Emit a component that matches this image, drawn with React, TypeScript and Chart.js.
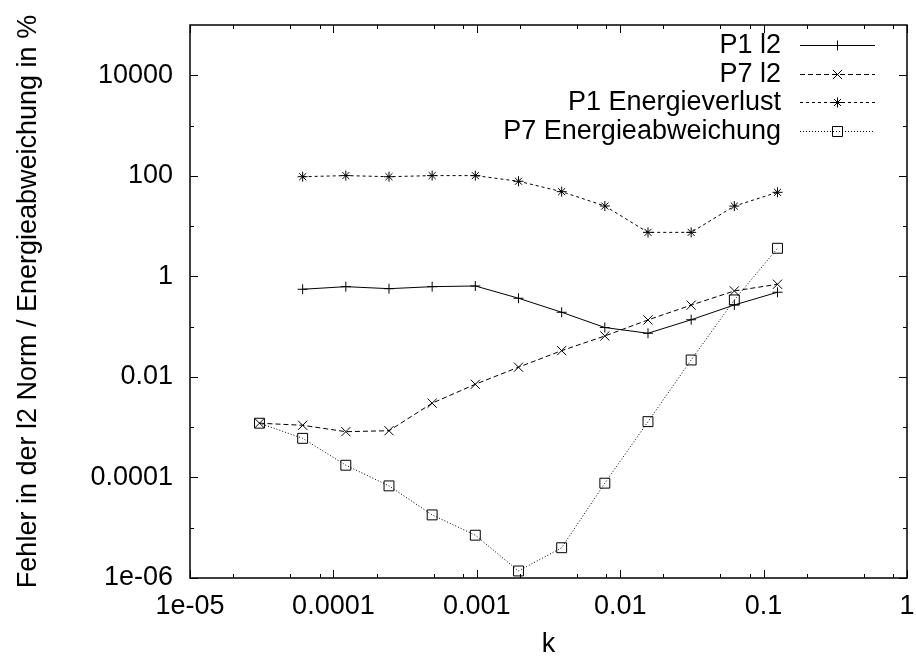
import React, { useEffect, useRef } from 'react';
import { Chart, registerables } from 'chart.js';

Chart.register(...registerables);

// ---- data ----
const kValues = [3.0518e-5, 6.1035e-5, 1.2207e-4, 2.4414e-4, 4.8828e-4, 9.7656e-4, 1.9531e-3, 3.9063e-3, 7.8125e-3, 0.015625, 0.03125, 0.0625, 0.125];
const p1L2 = [null, 0.554, 0.624, 0.569, 0.624, 0.644, 0.367, 0.193, 0.096, 0.0738, 0.137, 0.27, 0.483];
const p7L2 = [0.0012, 0.00109, 0.000814, 0.00085, 0.003, 0.00714, 0.0156, 0.0333, 0.0652, 0.136, 0.268, 0.513, 0.697];
const p1Energie = [null, 96, 101, 96, 101, 101, 78, 48.4, 25.1, 7.5, 7.5, 25, 47];
const p7Energie = [0.0012, 0.0006, 1.75e-4, 6.8e-5, 1.8e-5, 7.1e-6, 1.38e-6, 4.0e-6, 7.7e-5, 0.00129, 0.0217, 0.34, 3.62];

const seriesLabels = ['P1 l2', 'P7 l2', 'P1 Energieverlust', 'P7 Energieabweichung'];

const xTickValues = [1e-5, 1e-4, 1e-3, 1e-2, 1e-1, 1];
const xTickLabels = ['1e-05', '0.0001', '0.001', '0.01', '0.1', '1'];
const xMinorFactors = [2, 5, 8];
const yTickValues = [1e-6, 1e-4, 1e-2, 1, 100, 10000];
const yTickLabels = ['1e-06', '0.0001', '0.01', '1', '100', '10000'];
const yMinorValues = [1e-5, 1e-3, 0.1, 10, 1000];

const xTitle = 'k';
const yTitle = 'Fehler in der l2 Norm / Energieabweichung in %';

const FONT = "'Liberation Sans', Arial, Helvetica, sans-serif";
const FS = 27;

function toPoints(vals: (number | null)[]) {
  const out: { x: number; y: number }[] = [];
  vals.forEach((v, i) => {
    if (v !== null) out.push({ x: kValues[i], y: v });
  });
  return out;
}

function drawMarker(ctx: CanvasRenderingContext2D, style: string, x: number, y: number) {
  ctx.beginPath();
  if (style === 'cross') {
    ctx.moveTo(x - 5, y); ctx.lineTo(x + 5, y);
    ctx.moveTo(x, y - 5); ctx.lineTo(x, y + 5);
  } else if (style === 'crossRot') {
    ctx.moveTo(x - 4.6, y - 4.6); ctx.lineTo(x + 4.6, y + 4.6);
    ctx.moveTo(x - 4.6, y + 4.6); ctx.lineTo(x + 4.6, y - 4.6);
  } else if (style === 'star') {
    ctx.moveTo(x - 5, y); ctx.lineTo(x + 5, y);
    ctx.moveTo(x, y - 5); ctx.lineTo(x, y + 5);
    ctx.moveTo(x - 3.5, y - 3.5); ctx.lineTo(x + 3.5, y + 3.5);
    ctx.moveTo(x - 3.5, y + 3.5); ctx.lineTo(x + 3.5, y - 3.5);
  } else if (style === 'rect') {
    ctx.rect(x - 5, y - 5, 10, 10);
  }
  ctx.stroke();
}

const framePlugin = {
  id: 'gnuFrame',
  afterDraw(chart: any) {
    const { ctx, chartArea } = chart;
    const { left, right, top, bottom } = chartArea;
    const xs = chart.scales.x;
    const ys = chart.scales.y;
    ctx.save();
    ctx.strokeStyle = '#000';
    ctx.setLineDash([]);
    ctx.lineWidth = 1.5;
    ctx.strokeRect(left, top, right - left, bottom - top);
    ctx.lineWidth = 1;
    const major = 8;
    const minor = 4;
    ctx.beginPath();
    const xTick = (v: number, len: number) => {
      const px = Math.round(xs.getPixelForValue(v)) + 0.5;
      ctx.moveTo(px, bottom); ctx.lineTo(px, bottom - len);
      ctx.moveTo(px, top); ctx.lineTo(px, top + len);
    };
    const yTick = (v: number, len: number) => {
      const py = Math.round(ys.getPixelForValue(v)) + 0.5;
      ctx.moveTo(left, py); ctx.lineTo(left + len, py);
      ctx.moveTo(right, py); ctx.lineTo(right - len, py);
    };
    xTickValues.forEach((v) => xTick(v, major));
    xTickValues.slice(0, -1).forEach((d) => xMinorFactors.forEach((f) => xTick(d * f, minor)));
    yTickValues.forEach((v) => yTick(v, major));
    yMinorValues.forEach((v) => yTick(v, minor));
    ctx.stroke();

    // legend (gnuplot style: right aligned text, then line sample with marker)
    const textRight = 781;
    const lineL = 800;
    const lineR = 875;
    const rowY0 = 45;
    const rowH = 28.5;
    ctx.font = `${FS}px ${FONT}`;
    ctx.fillStyle = '#000';
    ctx.textAlign = 'right';
    ctx.textBaseline = 'middle';
    chart.data.datasets.forEach((ds: any, i: number) => {
      const y = rowY0 + i * rowH;
      ctx.fillText(ds.label, textRight, y + 1);
      ctx.strokeStyle = '#000';
      ctx.lineWidth = 1;
      ctx.setLineDash(ds.borderDash || []);
      ctx.beginPath();
      ctx.moveTo(lineL, Math.round(y) + 0.5);
      ctx.lineTo(lineR, Math.round(y) + 0.5);
      ctx.stroke();
      ctx.setLineDash([]);
      drawMarker(ctx, ds.pointStyle, (lineL + lineR) / 2, Math.round(y) + 0.5);
    });
    ctx.restore();
  },
};

export default function App() {
  const ref = useRef<HTMLCanvasElement | null>(null);

  useEffect(() => {
    if (!ref.current) return;
    const common = {
      borderColor: '#000',
      borderWidth: 1,
      pointBorderColor: '#000',
      pointBackgroundColor: 'rgba(0,0,0,0)',
      pointBorderWidth: 1,
      fill: false,
      tension: 0,
    };
    const chart = new Chart(ref.current, {
      type: 'line',
      data: {
        datasets: [
          { ...common, label: seriesLabels[0], data: toPoints(p1L2), borderDash: [], pointStyle: 'cross', pointRadius: 5 },
          { ...common, label: seriesLabels[1], data: toPoints(p7L2), borderDash: [5, 3], pointStyle: 'crossRot', pointRadius: 6.5 },
          { ...common, label: seriesLabels[2], data: toPoints(p1Energie), borderDash: [3, 3], pointStyle: 'star', pointRadius: 5 },
          { ...common, label: seriesLabels[3], data: toPoints(p7Energie), borderDash: [1, 2], pointStyle: 'rect', pointRadius: 7 },
        ] as any,
      },
      options: {
        responsive: false,
        animation: false,
        devicePixelRatio: 1,
        events: [],
        layout: { padding: { top: 25, right: 9, left: 0, bottom: 0 } },
        plugins: {
          legend: { display: false },
          tooltip: { enabled: false },
        },
        scales: {
          x: {
            type: 'logarithmic',
            min: 1e-5,
            max: 1,
            afterBuildTicks: (s: any) => {
              s.ticks = xTickValues.map((v) => ({ value: v }));
            },
            afterFit: (s: any) => {
              s.height = 83;
              s.paddingLeft = 0;
              s.paddingRight = 0;
            },
            grid: { display: false, drawTicks: false, tickLength: 0 },
            border: { display: false },
            ticks: {
              autoSkip: false,
              maxRotation: 0,
              minRotation: 0,
              padding: 12,
              color: '#000',
              font: { family: FONT, size: FS },
              callback: (_v: any, i: number) => xTickLabels[i],
            },
            title: {
              display: true,
              text: xTitle,
              color: '#000',
              font: { family: FONT, size: FS },
              padding: { top: 0, bottom: 0 },
            },
          },
          y: {
            type: 'logarithmic',
            min: 1e-6,
            max: 1e5,
            afterBuildTicks: (s: any) => {
              s.ticks = yTickValues.map((v) => ({ value: v }));
            },
            afterFit: (s: any) => {
              s.width = 190;
              s.paddingTop = 0;
              s.paddingBottom = 0;
            },
            grid: { display: false, drawTicks: false, tickLength: 0 },
            border: { display: false },
            ticks: {
              autoSkip: false,
              padding: 17,
              color: '#000',
              font: { family: FONT, size: FS },
              callback: (_v: any, i: number) => yTickLabels[i],
            },
            title: {
              display: true,
              text: yTitle,
              color: '#000',
              font: { family: FONT, size: FS },
              padding: { top: 12, bottom: 0 },
            },
          },
        },
      } as any,
      plugins: [framePlugin],
    });
    return () => chart.destroy();
  }, []);

  return (
    <div style={{ position: 'absolute', left: 0, top: 0, width: 916, height: 661, background: '#fff' }}>
      <canvas ref={ref} width={916} height={661} />
    </div>
  );
}
